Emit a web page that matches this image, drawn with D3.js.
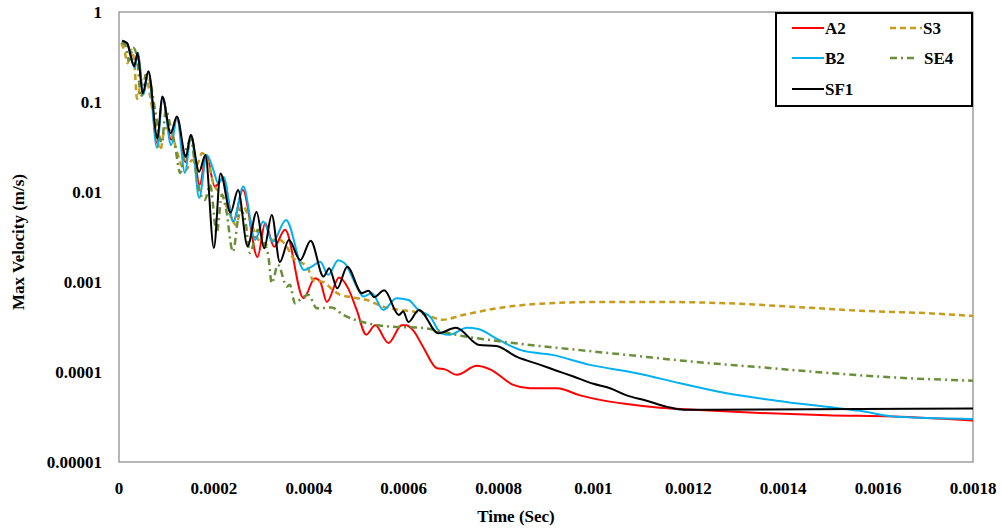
<!DOCTYPE html>
<html>
<head>
<meta charset="utf-8">
<script src="https://cdn.jsdelivr.net/npm/d3@7/dist/d3.min.js"></script>
<style>
  html, body { margin: 0; padding: 0; background: #fff; }
  svg { display: block; font-family: 'Liberation Serif', 'Times New Roman', serif; font-weight: bold; }
</style>
</head>
<body>
<div id="chart"></div>
<script>
// [time in microseconds, max velocity in m/s]
const A2 = [[7,0.48],[17,0.45],[33,0.245],[40,0.35],[51,0.123],[62,0.215],[80,0.035],[92,0.114],[110,0.038],[122,0.068],
  [140,0.0215],[152,0.043],[170,0.012],[184,0.0258],[202,0.0115],[220,0.0142],[241,0.0047],[261,0.0105],[292,0.0019],
  [308,0.0045],[327,0.00247],[350,0.0038],[389,0.00066],[413,0.0011],[424,0.00101],[438,0.0006],[464,0.00112],[483,0.00085],
  [501,0.00049],[521,0.00026],[540,0.00033],[568,0.00021],[596,0.00033],[605,0.00033],[620,0.00029],[641,0.00019],
  [670,0.00011],[687,0.000107],[712,0.000093],[754,0.000117],[782,0.000107],[831,0.000072],[866,0.000066],[923,0.000066],
  [972,0.000055],[1014,0.000049],[1070,0.000044],[1140,0.00004],[1211,0.000038],[1351,0.000035],[1492,0.000033],
  [1632,0.000032],[1800,0.000029]];

const S3 = [[5,0.45],[12,0.36],[18,0.27],[25,0.38],[32,0.29],[38,0.108],[48,0.185],[57,0.2],[65,0.12],[76,0.0555],
  [87,0.0293],[97,0.0514],[108,0.0489],[120,0.031],[131,0.02],[141,0.0175],[154,0.0227],[164,0.02],[175,0.0271],
  [188,0.021],[200,0.012],[217,0.0093],[234,0.00555],[247,0.0043],[259,0.0072],[272,0.00555],[290,0.00318],[308,0.00258],
  [323,0.00293],[339,0.00293],[354,0.00245],[367,0.00185],[382,0.00167],[398,0.00143],[409,0.00105],[430,0.001],
  [451,0.000815],[466,0.00072],[487,0.00068],[523,0.00063],[557,0.00053],[592,0.00049],[620,0.00047],[649,0.00043],
  [681,0.00038],[725,0.00043],[797,0.00051],[902,0.00058],[1008,0.0006],[1140,0.0006],[1282,0.00058],[1421,0.00053],
  [1562,0.00048],[1703,0.00045],[1800,0.00042]];

const B2 = [[7,0.48],[17,0.45],[33,0.24],[40,0.35],[51,0.12],[62,0.215],[80,0.031],[92,0.114],[110,0.033],[122,0.068],
  [139,0.0163],[152,0.043],[169,0.0086],[185,0.0258],[199,0.0175],[209,0.0125],[220,0.0148],[241,0.0047],[262,0.0115],
  [287,0.00293],[304,0.0047],[324,0.0028],[352,0.0049],[390,0.00136],[406,0.00148],[424,0.00168],[441,0.0012],
  [462,0.00175],[476,0.00161],[501,0.00089],[515,0.00069],[533,0.00075],[557,0.00049],[585,0.00066],[610,0.00063],
  [631,0.00049],[656,0.00041],[679,0.00027],[698,0.00026],[733,0.00031],[757,0.0003],[799,0.00023],[847,0.000175],
  [913,0.000155],[993,0.00012],[1091,0.000097],[1183,0.000075],[1281,0.000058],[1386,0.000048],[1492,0.000041],
  [1562,0.000037],[1632,0.000032],[1800,0.00003]];

const SE4 = [[5,0.46],[13,0.43],[21,0.29],[30,0.4],[38,0.316],[46,0.114],[57,0.2],[65,0.175],[76,0.0815],[90,0.035],
  [99,0.0815],[108,0.0555],[118,0.033],[129,0.0163],[141,0.0293],[152,0.038],[160,0.02],[171,0.00975],[181,0.00815],
  [192,0.012],[206,0.0035],[217,0.0093],[226,0.0063],[240,0.00217],[255,0.0063],[266,0.0049],[276,0.0021],[293,0.0038],
  [304,0.00293],[315,0.0019],[322,0.00097],[335,0.00155],[354,0.00089],[360,0.00093],[371,0.00058],[385,0.00066],
  [399,0.00072],[417,0.00051],[448,0.00052],[473,0.00043],[522,0.00035],[571,0.00032],[635,0.00031],[726,0.00025],
  [831,0.00021],[972,0.000175],[1070,0.000155],[1211,0.00013],[1351,0.000113],[1492,0.000098],[1632,0.000087],
  [1800,0.00008]];

const SF1 = [[7,0.48],[17,0.45],[32,0.25],[39,0.35],[50,0.125],[62,0.22],[81,0.0395],[91,0.115],[109,0.045],[122,0.069],
  [141,0.0247],[151,0.043],[169,0.0168],[182,0.0258],[200,0.00239],[214,0.0161],[235,0.0059],[251,0.0105],[271,0.0025],
  [290,0.006],[306,0.00237],[322,0.00555],[339,0.00167],[358,0.00293],[382,0.00175],[404,0.00288],[431,0.00115],
  [443,0.00142],[460,0.00085],[481,0.00148],[512,0.00075],[526,0.0008],[538,0.00068],[559,0.00081],[590,0.00043],
  [599,0.00047],[610,0.00036],[632,0.00049],[673,0.00027],[710,0.00031],[759,0.0002],[795,0.000195],[839,0.000147],
  [888,0.00012],[921,0.000104],[958,0.000089],[1000,0.000074],[1035,0.000066],[1070,0.000055],[1112,0.000048],
  [1155,0.000041],[1190,0.000038],[1351,0.0000383],[1562,0.0000388],[1800,0.0000393]];

const xTicks = [0, 0.0002, 0.0004, 0.0006, 0.0008, 0.001, 0.0012, 0.0014, 0.0016, 0.0018];
const xTickLabels = ['0', '0.0002', '0.0004', '0.0006', '0.0008', '0.001', '0.0012', '0.0014', '0.0016', '0.0018'];
const yTicks = [1, 0.1, 0.01, 0.001, 0.0001, 0.00001];
const yTickLabels = ['1', '0.1', '0.01', '0.001', '0.0001', '0.00001'];

// drawing order follows the spreadsheet series order, SF1 ends on top
const seriesList = [
  { name: 'A2',  data: A2,  color: '#ff0000', width: 2,   dash: null },
  { name: 'S3',  data: S3,  color: '#c99b1c', width: 2.5, dash: '6,4' },
  { name: 'B2',  data: B2,  color: '#00b0f0', width: 2,   dash: null },
  { name: 'SE4', data: SE4, color: '#6a8f3a', width: 2.5, dash: '7,4,2,4' },
  { name: 'SF1', data: SF1, color: '#000000', width: 2,   dash: null },
];

const W = 1002, H = 530;
const margin = { top: 12, right: 29, bottom: 68, left: 119 };
const width = W - margin.left - margin.right;
const height = H - margin.top - margin.bottom;

const svg = d3.select('#chart').append('svg')
  .attr('width', W).attr('height', H)
  .attr('viewBox', `0 0 ${W} ${H}`);

const g = svg.append('g').attr('transform', `translate(${margin.left},${margin.top})`);

const x = d3.scaleLinear().domain([0, 0.0018]).range([0, width]);
const y = d3.scaleLog().domain([0.00001, 1]).range([height, 0]);

g.append('clipPath').attr('id', 'plot-clip')
  .append('rect').attr('width', width).attr('height', height);

// plot frame
g.append('rect')
  .attr('width', width).attr('height', height)
  .attr('fill', 'none')
  .attr('stroke', '#868686')
  .attr('stroke-width', 1.2);

// Y tick labels
g.selectAll('.y-tick')
  .data(yTicks)
  .enter()
  .append('text')
  .attr('x', -17)
  .attr('y', (d) => y(d) + 6)
  .attr('text-anchor', 'end')
  .attr('font-size', 17)
  .attr('fill', '#000')
  .text((d, i) => yTickLabels[i]);

// X tick labels
g.selectAll('.x-tick')
  .data(xTicks)
  .enter()
  .append('text')
  .attr('x', (d) => x(d))
  .attr('y', height + 32)
  .attr('text-anchor', 'middle')
  .attr('font-size', 17)
  .attr('fill', '#000')
  .text((d, i) => xTickLabels[i]);

// axis titles
svg.append('text')
  .attr('x', 516).attr('y', 522)
  .attr('text-anchor', 'middle')
  .attr('font-size', 17)
  .text('Time (Sec)');

svg.append('text')
  .attr('transform', `translate(24,${margin.top + height / 2 + 5}) rotate(-90)`)
  .attr('text-anchor', 'middle')
  .attr('font-size', 17)
  .text('Max Velocity (m/s)');

// series
const line = d3.line()
  .x((d) => x(d[0] * 1e-6))
  .y((d) => y(d[1]))
  .curve(d3.curveMonotoneX);

const lines = g.append('g').attr('clip-path', 'url(#plot-clip)');
seriesList.forEach((s) => {
  lines.append('path')
    .datum(s.data)
    .attr('d', line)
    .attr('fill', 'none')
    .attr('stroke', s.color)
    .attr('stroke-width', s.width)
    .attr('stroke-dasharray', s.dash)
    .attr('stroke-linejoin', 'round');
});

// legend (Excel fills row by row: A2 S3 / B2 SE4 / SF1)
const legend = svg.append('g').attr('transform', 'translate(776,13)');
legend.append('rect')
  .attr('width', 196).attr('height', 93)
  .attr('fill', '#fff')
  .attr('stroke', '#000')
  .attr('stroke-width', 2);

const legendPos = {
  A2:  [16, 15], S3:  [114, 15],
  B2:  [16, 45], SE4: [114, 45],
  SF1: [16, 76],
};
seriesList.forEach((s) => {
  const [lx, ly] = legendPos[s.name];
  const item = legend.append('g').attr('transform', `translate(${lx},${ly})`);
  item.append('line')
    .attr('x1', 0).attr('x2', s.name === 'SE4' ? 27 : 32)
    .attr('y1', 0).attr('y2', 0)
    .attr('stroke', s.color)
    .attr('stroke-width', s.width)
    .attr('stroke-dasharray', s.dash);
  item.append('text')
    .attr('x', s.name === 'SE4' ? 34 : 33)
    .attr('y', 6)
    .attr('font-size', 17)
    .text(s.name);
});
</script>
</body>
</html>
